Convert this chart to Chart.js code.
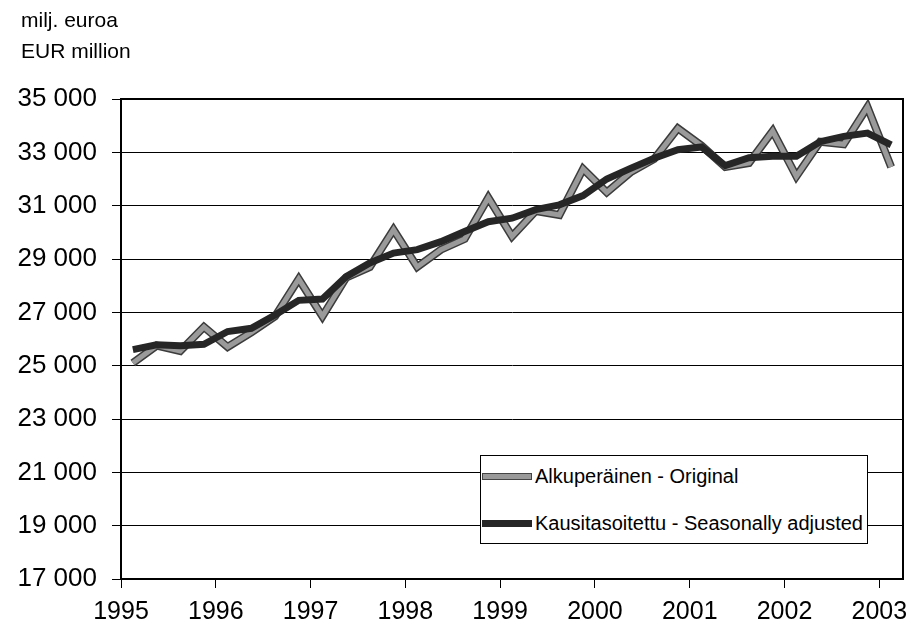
<!DOCTYPE html>
<html>
<head>
<meta charset="utf-8">
<script src="https://cdn.jsdelivr.net/npm/chart.js@4/dist/chart.umd.min.js"></script>
<style>
    body { margin: 0; background: #fff; }
    #wrap { position: relative; width: 924px; height: 631px; font-family: "Liberation Sans", Arial, sans-serif; color: #000; }
    .unit { position: absolute; left: 21px; font-size: 21px; line-height: 24px; }
    #legend { position: absolute; left: 480px; top: 455px; width: 388px; height: 89px; border: 1px solid #000; background: #fff; box-sizing: border-box; }
    .item { position: absolute; left: 1px; height: 24px; line-height: 24px; font-size: 20px; white-space: nowrap; }
    .swatch { display: inline-block; width: 50px; height: 7px; vertical-align: middle; margin-right: 3px; position: relative; top: -1px; box-sizing: border-box; }
</style>
</head>
<body>
<div id="wrap">
    <canvas id="chart" width="924" height="631"></canvas>
    <div class="unit" style="top: 8px">milj. euroa</div>
    <div class="unit" style="top: 39px">EUR million</div>
    <div id="legend">
        <div class="item" style="top: 8px"><span class="swatch" style="background:#999;border:1px solid #444"></span>Alkuperäinen - Original</div>
        <div class="item" style="top: 55px"><span class="swatch" style="background:#262626"></span>Kausitasoitettu - Seasonally adjusted</div>
    </div>
</div>
<script>
// quarters 1995 Q1 .. 2003 Q1
const firstYear = 1995
const original = [25100, 25750, 25550, 26450, 25700, 26250, 26850, 28250,
                  26850, 28300, 28700, 30100, 28700, 29350, 29750, 31300,
                  29850, 30800, 30650, 32380, 31500, 32250, 32750, 33900,
                  33250, 32450, 32600, 33800, 32100, 33400, 33300, 34700,
                  32450]
const adjusted = [25600, 25780, 25750, 25800, 26280, 26400, 26900, 27450,
                  27500, 28340, 28850, 29220, 29350, 29650, 30030, 30400,
                  30530, 30850, 31030, 31380, 32000, 32400, 32780, 33100,
                  33200, 32500, 32800, 32850, 32850, 33400, 33600, 33720,
                  33280]
const yTicks = [17000, 19000, 21000, 23000, 25000, 27000, 29000, 31000, 33000, 35000]
const yearTicks = [0, 4, 8, 12, 16, 20, 24, 28, 32]   // quarter index of each Q1

// each quarter sits in the middle of its slot
const toPoints = arr => arr.map((v, i) => ({ x: i + 0.5, y: v }))
const fmt = v => String(v).replace(/\B(?=(\d{3})+(?!\d))/g, ' ')

const frame = {
    id: 'frame',
    afterDatasetsDraw(chart) {
        const { ctx, chartArea: a } = chart
        ctx.save()
        ctx.strokeStyle = '#000'
        ctx.lineWidth = 2
        ctx.strokeRect(a.left, a.top, a.right - a.left, a.bottom - a.top)
        ctx.restore()
    }
}

const line = (data, color, width, order) => ({
    data: toPoints(data),
    borderColor: color,
    borderWidth: width,
    borderJoinStyle: 'miter',
    pointRadius: 0,
    tension: 0,
    order: order
})

const ctx = document.getElementById('chart').getContext('2d')
new Chart(ctx, {
    type: 'line',
    data: {
        datasets: [
            line(adjusted, '#262626', 7, 1),
            line(original, '#9a9a9a', 5, 2),
            line(original, '#3c3c3c', 8, 3)   // dark rim of the original line
        ]
    },
    options: {
        responsive: false,
        animation: false,
        layout: { padding: { left: 0, top: 99, right: 21, bottom: 0 } },
        plugins: { legend: { display: false }, tooltip: { enabled: false } },
        scales: {
            x: {
                type: 'linear',
                min: 0,
                max: original.length,
                afterBuildTicks: s => { s.ticks = yearTicks.map(v => ({ value: v })) },
                afterFit: s => { s.height = 52 },
                grid: { drawOnChartArea: false, drawTicks: true, tickLength: 9, color: '#000', lineWidth: 1 },
                border: { color: '#000', width: 2 },
                ticks: {
                    autoSkip: false,
                    maxRotation: 0,
                    padding: 9,
                    color: '#000',
                    font: { family: 'Liberation Sans', size: 25 },
                    callback: v => String(firstYear + v / 4)
                }
            },
            y: {
                min: yTicks[0],
                max: yTicks[yTicks.length - 1],
                afterBuildTicks: s => { s.ticks = yTicks.map(v => ({ value: v })) },
                afterFit: s => { s.width = 121 },
                grid: { color: '#000', lineWidth: 1, tickLength: 9 },
                border: { color: '#000', width: 2 },
                ticks: {
                    padding: 15,
                    color: '#000',
                    font: { family: 'Liberation Sans', size: 26 },
                    callback: v => fmt(v)
                }
            }
        }
    },
    plugins: [frame]
})
</script>
</body>
</html>
